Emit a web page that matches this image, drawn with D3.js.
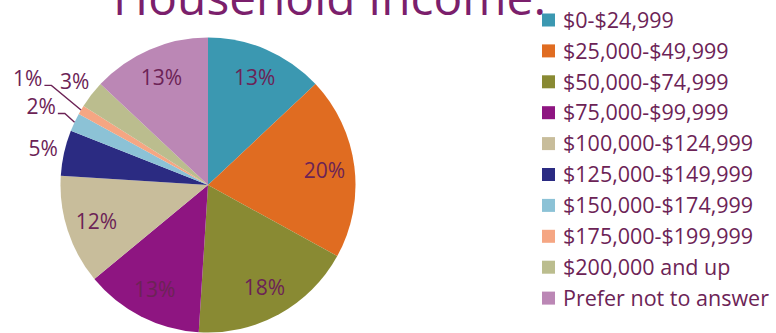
<!DOCTYPE html>
<html>
<head>
<meta charset="utf-8">
<script src="https://cdn.jsdelivr.net/npm/d3@7"></script>
<style>
  html, body { margin: 0; padding: 0; background: #ffffff; }
  svg { display: block; }
  text { font-family: "Open Sans", sans-serif; }
</style>
</head>
<body>
<svg id="chart" width="776" height="333"></svg>
<script>
// Household income distribution (percent of respondents)
const categories = [
  "$0-$24,999",
  "$25,000-$49,999",
  "$50,000-$74,999",
  "$75,000-$99,999",
  "$100,000-$124,999",
  "$125,000-$149,999",
  "$150,000-$174,999",
  "$175,000-$199,999",
  "$200,000 and up",
  "Prefer not to answer"
];
const shares = [13, 20, 18, 13, 12, 5, 2, 1, 3, 13];
const sliceColors = [
  "#3b98b1", "#e06c21", "#898a33", "#8e1581", "#c8bd9b",
  "#2b2b82", "#8cc2d6", "#f5a683", "#bbbd8e", "#bb87b5"
];
const titleText = "Household Income:";

const textColor = "#6c2356";
const svg = d3.select("#chart");

// Title (runs off the top edge)
svg.append("text")
  .attr("x", 113)
  .attr("y", 15)
  .attr("font-size", 47)
  .attr("fill", "#7b1f6c")
  .attr("textLength", 433)
  .attr("lengthAdjust", "spacingAndGlyphs")
  .text(titleText);

// Pie
const cx = 208, cy = 185, R = 147.5;
const data = categories.map((c, i) => ({ name: c, value: shares[i], color: sliceColors[i] }));

const pie = d3.pie().value(d => d.value).sort(null).startAngle(0).endAngle(2 * Math.PI);
const arcs = pie(data);
const arc = d3.arc().innerRadius(0).outerRadius(R);

const g = svg.append("g").attr("transform", `translate(${cx},${cy})`);

g.selectAll("path.slice")
  .data(arcs)
  .join("path")
  .attr("class", "slice")
  .attr("d", arc)
  .attr("fill", d => d.data.color);

// Label placement: big slices inside, small ones outside, tiny ones with leaders
const midAngle = d => (d.startAngle + d.endAngle) / 2;
const polar = (a, r) => [r * Math.sin(a), -r * Math.cos(a)];

let tinyCount = 0;
const labelInfo = arcs.map(d => {
  const a = midAngle(d);
  if (d.data.value >= 10) return { d, pos: polar(a, R * 0.795), leader: false };
  if (d.data.value >= 3) return { d, pos: polar(a, R * 1.145), leader: false };
  const k = tinyCount++;
  const r = R * (k === 0 ? 1.25 : 1.42);
  return { d, pos: polar(a, r), leader: true };
});

const labelFont = 21;
const labels = g.selectAll("text.lbl")
  .data(labelInfo)
  .join("text")
  .attr("class", "lbl")
  .attr("x", p => p.pos[0])
  .attr("y", p => p.pos[1])
  .attr("dy", "0.35em")
  .attr("text-anchor", "middle")
  .attr("font-size", labelFont)
  .attr("fill", textColor)
  .text(p => p.d.data.value + "%");

// Leader lines for the tiniest slices
labels.each(function (p) {
  if (!p.leader) return;
  const bb = this.getBBox();
  const sx = bb.x + bb.width + 2;
  const sy = p.pos[1] + 7;
  const edge = polar(midAngle(p.d), R);
  const pts = [[sx, sy], [sx + 7, sy], edge];
  g.append("path")
    .attr("d", d3.line()(pts))
    .attr("fill", "none")
    .attr("stroke", textColor)
    .attr("stroke-width", 1.4);
});

// Legend
const legendX = 542, legendY0 = 20, legendStep = 30.9, box = 13;
const legend = svg.append("g");
const rows = legend.selectAll("g.row")
  .data(data)
  .join("g")
  .attr("class", "row")
  .attr("transform", (d, i) => `translate(${legendX},${legendY0 + i * legendStep})`);

rows.append("rect")
  .attr("x", 0)
  .attr("y", -box / 2)
  .attr("width", box)
  .attr("height", box)
  .attr("fill", d => d.color);

rows.append("text")
  .attr("x", 21)
  .attr("y", 0)
  .attr("dy", "0.36em")
  .attr("font-size", 21.5)
  .attr("fill", textColor)
  .text(d => d.name);
</script>
</body>
</html>
